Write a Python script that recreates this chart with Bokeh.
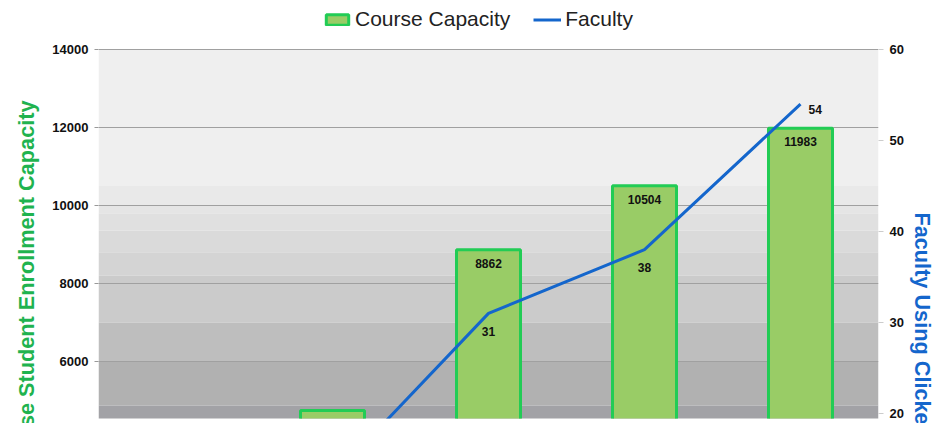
from bokeh.plotting import figure
from bokeh.models import (FactorRange, Range1d, LinearAxis, Legend, LegendItem,
                          BoxAnnotation, ColumnDataSource, Title)
from bokeh.core.properties import value
from bokeh.embed import file_html
from bokeh.resources import INLINE

# ---- data ----
categories = ["2006", "2007", "2008", "2009", "2010"]
capacity = [2600, 4740, 8862, 10504, 11983]
faculty = [6, 13, 31, 38, 54]
left_ticks = [0, 2000, 4000, 6000, 8000, 10000, 12000, 14000]
right_ticks = [0, 10, 20, 30, 40, 50, 60]

# background bands (left-axis values) and their greys
band_lo = [10500, 10000, 9800, 9350, 8800, 8200, 7000, 6000, 4870, 0]
band_hi = [14000, 10500, 10000, 9800, 9350, 8800, 8200, 7000, 6000, 4870]
band_col = ["#efefef", "#e9e9e9", "#e5e5e5", "#e0e0e0", "#dadada", "#d4d4d4",
            "#cbcbcb", "#bebebe", "#b1b1b1", "#a2a2a6"]

FONT = "Liberation Sans"
GREEN_T = "#1fb34f"
BLUE = "#1466cc"

src = ColumnDataSource(dict(cat=categories, cap=capacity, fac=faculty,
                            mid=[c / 2 for c in capacity],
                            cap_txt=[str(v) for v in capacity]))

# visible window of the (cropped) chart
y_lo, y_hi = 4538, 15256
p = figure(width=936, height=423, output_backend="svg", toolbar_location=None,
           x_range=FactorRange(*categories, range_padding=0),
           y_range=Range1d(y_lo, y_hi))
p.extra_y_ranges = {"right": Range1d(y_lo * 60 / 14000, y_hi * 60 / 14000)}

p.min_border_left = 98
p.min_border_right = 57
p.min_border_bottom = 5
p.min_border_top = 0
p.outline_line_color = None
p.background_fill_color = "white"
p.border_fill_color = "white"

bands = [BoxAnnotation(bottom=lo, top=hi, fill_color=c, fill_alpha=1,
                       line_color=None, level="underlay")
         for lo, hi, c in zip(band_lo, band_hi, band_col)]
p.center = bands + list(p.center)

p.xaxis.visible = False
p.xgrid.visible = False
p.ygrid.grid_line_color = "#a0a0a0"
p.ygrid.grid_line_width = 1
p.ygrid.ticker = left_ticks

yax = p.yaxis[0]
yax.ticker = left_ticks
yax.major_label_text_font = FONT
yax.major_label_text_font_style = "bold"
yax.major_label_text_font_size = "13px"
yax.major_label_text_color = "#111111"
yax.axis_line_color = None
yax.major_tick_line_color = "#999999"
yax.major_tick_out = 4
yax.major_tick_in = 0
yax.minor_tick_line_color = None
yax.major_label_standoff = 6

rax = LinearAxis(y_range_name="right", ticker=right_ticks)
rax.major_label_text_font = FONT
rax.major_label_text_font_style = "bold"
rax.major_label_text_font_size = "13px"
rax.major_label_text_color = "#111111"
rax.axis_line_color = None
rax.major_tick_line_color = "#cccccc"
rax.major_tick_out = 5
rax.major_tick_in = 0
rax.minor_tick_line_color = None
rax.major_label_standoff = 6
p.add_layout(rax, "right")

bars = p.rect(x="cat", y="mid", width=0.41, height="cap", source=src,
              fill_color="#99cc66", line_color="#22cc55", line_width=3)
line = p.line(x="cat", y="fac", source=src, y_range_name="right",
              line_color=BLUE, line_width=3)

# bar value labels
p.text(x="cat", y="cap", text="cap_txt", source=src, text_align="center",
       text_baseline="top", y_offset=9, text_font=value(FONT),
       text_font_style="bold", text_font_size="12px", text_color="#111111")

# faculty labels
src_a = ColumnDataSource(dict(cat=categories[:4], fac=faculty[:4],
                              t=[str(v) for v in faculty[:4]]))
src_b = ColumnDataSource(dict(cat=categories[4:], fac=faculty[4:],
                              t=[str(v) for v in faculty[4:]]))
p.text(x="cat", y="fac", text="t", source=src_a, y_range_name="right",
       text_align="center", text_baseline="middle", y_offset=18,
       text_font=value(FONT), text_font_style="bold", text_font_size="12px",
       text_color="#111111")
p.text(x="cat", y="fac", text="t", source=src_b, y_range_name="right",
       text_align="left", text_baseline="middle", x_offset=8, y_offset=5,
       text_font=value(FONT), text_font_style="bold", text_font_size="12px",
       text_color="#111111")

# axis titles as side titles (positioned along the side like the reference)
p.add_layout(Title(text="Course Student Enrollment Capacity", align="right",
                   offset=100, standoff=22, vertical_align="bottom",
                   text_font=FONT, text_font_style="bold",
                   text_font_size="21.7px", text_color=GREEN_T), "left")
p.add_layout(Title(text="Faculty Using Clickers", align="left", offset=212,
                   standoff=3, vertical_align="top",
                   text_font=FONT, text_font_style="bold",
                   text_font_size="21.7px", text_color=BLUE), "right")

legend = Legend(items=[LegendItem(label="Course Capacity", renderers=[bars]),
                       LegendItem(label="Faculty", renderers=[line])],
                orientation="horizontal", location=(225, 387),
                glyph_width=28, glyph_height=13, label_standoff=4, spacing=23,
                padding=2, margin=0, border_line_color=None,
                background_fill_alpha=0, label_text_font=FONT,
                label_text_font_size="21px", label_text_color="#222222")
p.add_layout(legend)

open("out.html", "w").write(file_html(p, INLINE))
